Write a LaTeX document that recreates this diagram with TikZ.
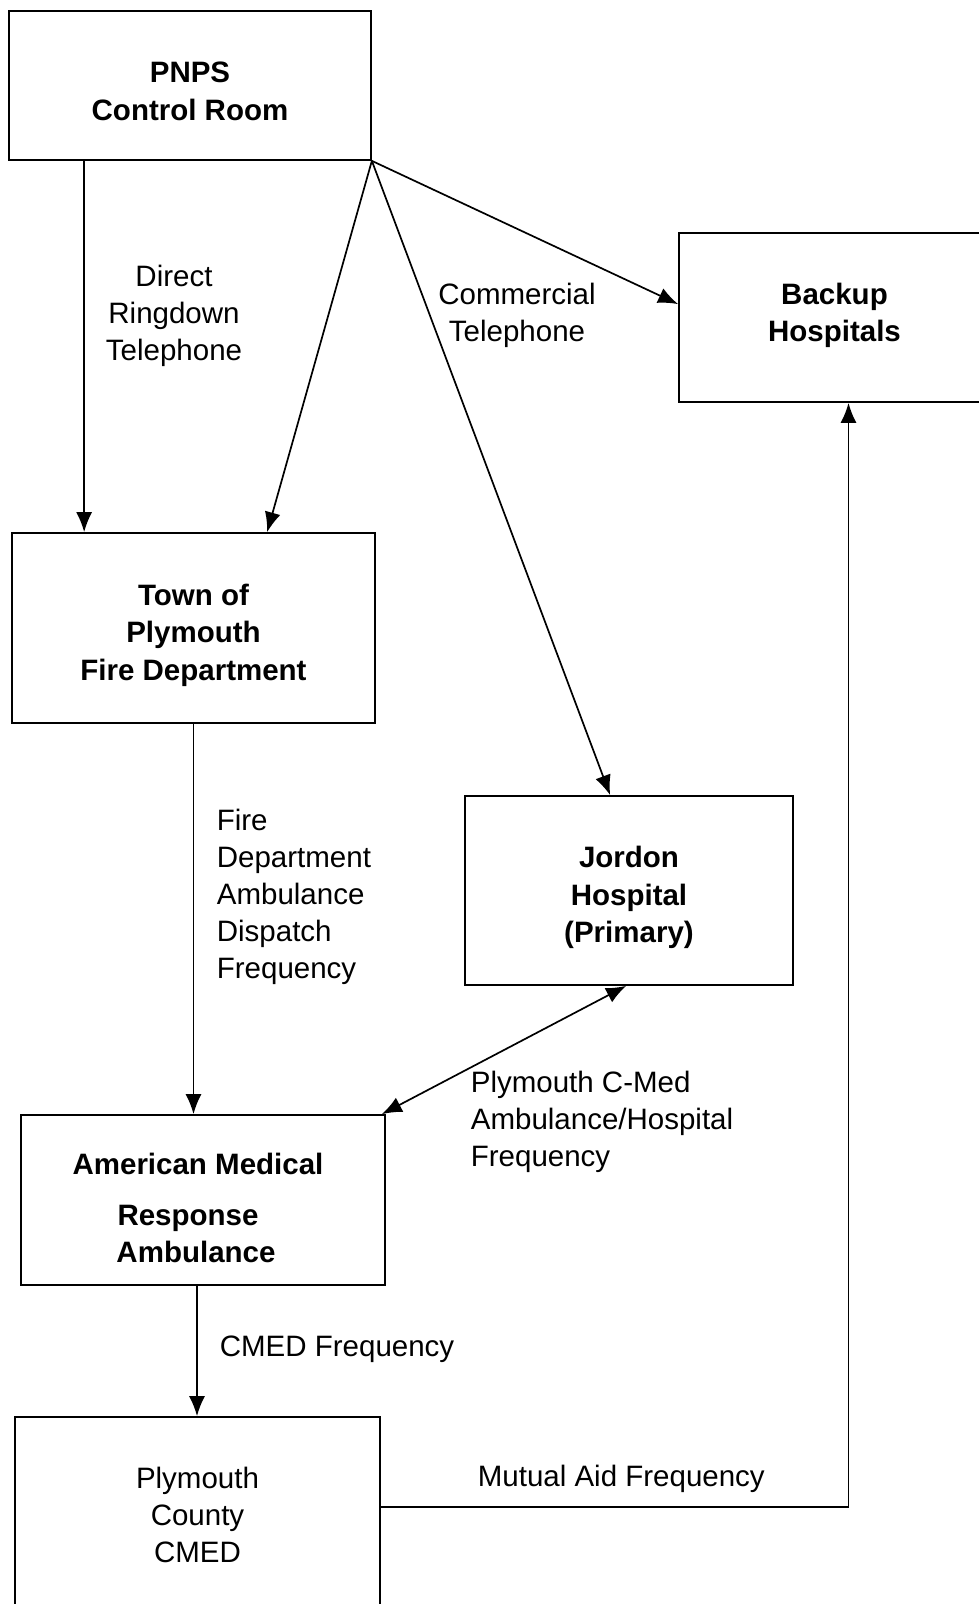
\documentclass[tikz,border=0pt]{standalone}
\usepackage{fontspec}
\setmainfont{Liberation Sans}
\usetikzlibrary{arrows.meta}
\tikzset{>={Latex[length=20pt,width=16pt]}}
\newcommand{\unitfont}{\fontsize{29.5}{37.5}\selectfont\bfseries}
\newcommand{\linkfont}{\fontsize{29.5}{37}\selectfont}
% struts to move the text inside a box
\newcommand{\upgap}[1]{\rule{0pt}{#1}}
\newcommand{\downgap}[1]{\rule[-#1]{0pt}{#1}}
\newcommand{\rightgap}[1]{\rule{#1}{0pt}}

\begin{document}
\begin{tikzpicture}[x=1pt, y=-1pt, line width=1.7pt,
    unit/.style={draw, align=center, font=\unitfont, inner sep=0pt},
    link/.style={align=left, font=\linkfont, inner sep=0pt}]
  \path[use as bounding box, clip] (0,0) rectangle (979,1604);

  % the six stations
  \node[unit, minimum width=362pt, minimum height=149pt] (pnps) at (190,85.5) {\upgap{32pt}PNPS\\Control Room};
  \node[unit, minimum width=311pt, minimum height=169pt] (backup) at (834.5,317.5) {Backup\\Hospitals\downgap{10pt}};
  \node[unit, minimum width=363pt, minimum height=190pt] (town) at (193.5,628) {\upgap{35.5pt}Town of\\Plymouth\\Fire Department};
  \node[unit, minimum width=328pt, minimum height=189pt] (jordon) at (629,890.5) {\upgap{35.5pt}Jordon\\Hospital\\(Primary)};
  \node[unit, minimum width=364pt, minimum height=170pt] (amr) at (203,1200)
    {\upgap{37.5pt}American Medical\rightgap{10pt}\\[13pt]Response\rightgap{30pt}\\Ambulance\rightgap{14pt}};
  \node[unit, font=\linkfont, minimum width=365pt, minimum height=203pt] (cmed) at (197.5,1518.5) {Plymouth\\County\\CMED\downgap{8pt}};

  % telephone lines
  \draw[->] ([xshift=76pt]pnps.south west) -- ([xshift=73pt]town.north west);
  \draw[->] (pnps.south east) -- ([xshift=256pt]town.north west);
  \draw[->] (pnps.south east) -- ([xshift=146pt]jordon.north west);
  \draw[->] (pnps.south east) -- ([yshift=-72pt]backup.north west);

  % radio links
  \draw[->] (town.south) -- (town.south |- amr.north);
  \draw[<->] ([xshift=162pt]jordon.south west) -- ([xshift=-4pt]amr.north east);
  \draw[->] ([xshift=-6pt]amr.south) -- ([xshift=-6pt]amr.south |- cmed.north);
  \draw[->] ([yshift=11.5pt]cmed.east) -| ([xshift=14pt]backup.south);

  % link labels
  \node[link, align=center] (ringdown) at (174,316) {Direct\\Ringdown\\Telephone};
  \node[link, align=center] (commercial) at (517,315) {Commercial\\Telephone};
  \node[link, anchor=west] (dispatch) at (216,897) {Fire\\Department\\Ambulance\\Dispatch\\Frequency};
  \node[link, anchor=west] (cmedhosp) at (470,1122) {Plymouth C-Med\\Ambulance/Hospital\\Frequency};
  \node[link, anchor=west] (cmedfreq) at (219,1349) {CMED Frequency};
  \node[link, anchor=west] (mutual) at (477,1479) {Mutual Aid Frequency};
\end{tikzpicture}
\end{document}
